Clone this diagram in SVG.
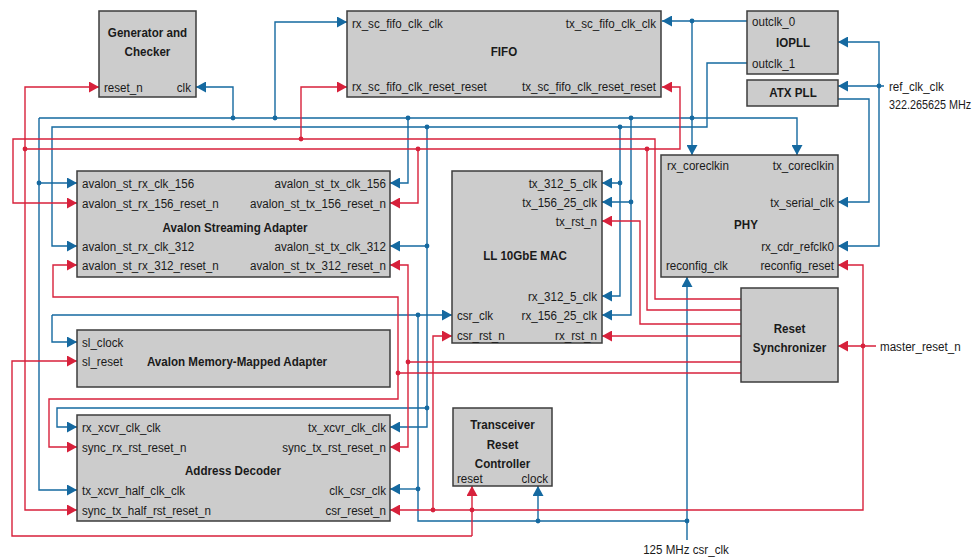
<svg xmlns="http://www.w3.org/2000/svg" width="976" height="558" viewBox="0 0 976 558">
<style>
.box{fill:#cccccc;stroke:#3c3c3c;stroke-width:1.5}
text{font-family:"Liberation Sans",Arial,sans-serif;font-size:13.5px;fill:#1a1a1a}
.t{font-weight:bold}
.m{text-anchor:middle}
.e{text-anchor:end}
.b{fill:none;stroke:#1569a0;stroke-width:1.4}
.r{fill:none;stroke:#d7213b;stroke-width:1.4}
.ba{marker-end:url(#ab)}
.ra{marker-end:url(#ar)}
.db{fill:#1569a0}
.dr{fill:#d7213b}
</style>
<defs>
<marker id="ab" markerUnits="userSpaceOnUse" viewBox="0 0 10 11" markerWidth="10" markerHeight="11" refX="10" refY="5.5" orient="auto"><path d="M0,0L10,5.5L0,11z" fill="#1569a0"/></marker>
<marker id="ar" markerUnits="userSpaceOnUse" viewBox="0 0 10 11" markerWidth="10" markerHeight="11" refX="10" refY="5.5" orient="auto"><path d="M0,0L10,5.5L0,11z" fill="#d7213b"/></marker>
</defs>
<rect width="976" height="558" fill="#ffffff"/>

<g id="connectors">
<g class="b">
<path class="ba" d="M747,21H662"/>
<path class="ba" d="M692,21V155"/>
<path class="ba" d="M39,118H797V155"/>
<path class="ba" d="M39,118V490H77"/>
<path class="ba" d="M39,183H77"/>
<path class="ba" d="M233,118V87H196"/>
<path class="ba" d="M275,118V22H347"/>
<path class="ba" d="M408,118V183H390"/>
<path class="ba" d="M631,118V202H602"/>
<path class="ba" d="M631,202V315H602"/>
<path class="ba" d="M747,63H707V127H52V246H77"/>
<path class="ba" d="M427,127V427H390"/>
<path class="ba" d="M427,246H390"/>
<path class="ba" d="M427,408H57V427H77"/>
<path class="ba" d="M620,127V183H602"/>
<path class="ba" d="M620,183V296H602"/>
<path class="ba" d="M687,540V277"/>
<path d="M687,521H418V315"/>
<path class="ba" d="M52,315H452"/>
<path class="ba" d="M52,315V342H77"/>
<path class="ba" d="M418,489H390"/>
<path class="ba" d="M538,521V486"/>
<path class="ba" d="M884,86H838"/>
<path class="ba" d="M879,86V42H838"/>
<path class="ba" d="M879,86V246H838"/>
<path class="ba" d="M838,99H869V202H838"/>
</g>
<g class="r">
<path class="ra" d="M741,299H655V139H13V203H77"/>
<path class="ra" d="M301,139V87H347"/>
<path d="M741,310H647V149"/>
<path class="ra" d="M25,149H680V87H662"/>
<path class="ra" d="M25,149V87H99"/>
<path class="ra" d="M25,149V510H77"/>
<path class="ra" d="M418,149V203H390"/>
<path class="ra" d="M741,324H640V221H602"/>
<path class="ra" d="M741,336H602"/>
<path d="M741,362H408"/>
<path class="ra" d="M408,362V265H390"/>
<path class="ra" d="M408,362V447H390"/>
<path d="M741,373H398"/>
<path class="ra" d="M398,373V297H53V265H77"/>
<path class="ra" d="M398,373V399H49V447H77"/>
<path class="ra" d="M876,346H838"/>
<path class="ra" d="M863,346V265H838"/>
<path class="ra" d="M863,346V510H390"/>
<path class="ra" d="M433,510V336H452"/>
<path class="ra" d="M472,536V486"/>
<path class="ra" d="M472,536H12V361H77"/>
</g>
<g class="db">
<circle cx="692" cy="21" r="2.4"/><circle cx="692" cy="118" r="2.4"/><circle cx="39" cy="183" r="2.4"/>
<circle cx="233" cy="118" r="2.4"/><circle cx="275" cy="118" r="2.4"/><circle cx="408" cy="118" r="2.4"/>
<circle cx="631" cy="118" r="2.4"/><circle cx="631" cy="202" r="2.4"/><circle cx="427" cy="127" r="2.4"/>
<circle cx="427" cy="246" r="2.4"/><circle cx="427" cy="408" r="2.4"/><circle cx="620" cy="127" r="2.4"/>
<circle cx="620" cy="183" r="2.4"/><circle cx="687" cy="521" r="2.4"/><circle cx="538" cy="521" r="2.4"/>
<circle cx="418" cy="489" r="2.4"/><circle cx="418" cy="315" r="2.4"/><circle cx="879" cy="86" r="2.4"/>
</g>
<g class="dr">
<circle cx="301" cy="139" r="2.4"/><circle cx="25" cy="149" r="2.4"/><circle cx="418" cy="149" r="2.4"/>
<circle cx="647" cy="149" r="2.4"/><circle cx="408" cy="362" r="2.4"/><circle cx="398" cy="373" r="2.4"/>
<circle cx="863" cy="346" r="2.4"/><circle cx="433" cy="510" r="2.4"/><circle cx="472" cy="510" r="2.4"/>
</g>
</g>

<g id="gen">
<rect class="box" x="99" y="11" width="97" height="86"/>
<text class="t m" transform="translate(147.5,37) scale(.86,1)">Generator and</text>
<text class="t m" transform="translate(147.5,56) scale(.86,1)">Checker</text>
<text transform="translate(104,91.5) scale(.86,1)">reset_n</text>
<text class="e" transform="translate(191,91.5) scale(.86,1)">clk</text>
</g>

<g id="fifo">
<rect class="box" x="347" y="11" width="314" height="86"/>
<text transform="translate(352,27.5) scale(.86,1)">rx_sc_fifo_clk_clk</text>
<text class="e" transform="translate(656,27.5) scale(.86,1)">tx_sc_fifo_clk_clk</text>
<text class="t m" transform="translate(504,56) scale(.86,1)">FIFO</text>
<text transform="translate(352,91) scale(.86,1)">rx_sc_fifo_clk_reset_reset</text>
<text class="e" transform="translate(656,91) scale(.86,1)">tx_sc_fifo_clk_reset_reset</text>
</g>

<g id="iopll">
<rect class="box" x="747" y="11" width="91" height="63"/>
<text transform="translate(752,25.5) scale(.86,1)">outclk_0</text>
<text class="t m" transform="translate(793,47) scale(.86,1)">IOPLL</text>
<text transform="translate(752,67.5) scale(.86,1)">outclk_1</text>
</g>

<g id="atxpll">
<rect class="box" x="747" y="80" width="91" height="26"/>
<text class="t m" transform="translate(793,97) scale(.86,1)">ATX PLL</text>
</g>

<g id="refclk">
<text transform="translate(889,90.5) scale(.86,1)">ref_clk_clk</text>
<text transform="translate(889,108.5) scale(.8,1)">322.265625 MHz</text>
</g>

<g id="phy">
<rect class="box" x="661" y="155" width="177" height="122"/>
<text transform="translate(667,169.5) scale(.86,1)">rx_coreclkin</text>
<text class="e" transform="translate(834,169.5) scale(.86,1)">tx_coreclkin</text>
<text class="e" transform="translate(834,206.5) scale(.86,1)">tx_serial_clk</text>
<text class="t m" transform="translate(746,229) scale(.86,1)">PHY</text>
<text class="e" transform="translate(834,250.5) scale(.86,1)">rx_cdr_refclk0</text>
<text transform="translate(666,270) scale(.86,1)">reconfig_clk</text>
<text class="e" transform="translate(834,270) scale(.86,1)">reconfig_reset</text>
</g>

<g id="avst">
<rect class="box" x="77" y="171" width="313" height="106"/>
<text transform="translate(82,187.5) scale(.86,1)">avalon_st_rx_clk_156</text>
<text transform="translate(82,207.5) scale(.86,1)">avalon_st_rx_156_reset_n</text>
<text transform="translate(82,250.5) scale(.86,1)">avalon_st_rx_clk_312</text>
<text transform="translate(82,269.5) scale(.86,1)">avalon_st_rx_312_reset_n</text>
<text class="e" transform="translate(386,187.5) scale(.86,1)">avalon_st_tx_clk_156</text>
<text class="e" transform="translate(386,207.5) scale(.86,1)">avalon_st_tx_156_reset_n</text>
<text class="e" transform="translate(386,250.5) scale(.86,1)">avalon_st_tx_clk_312</text>
<text class="e" transform="translate(386,269.5) scale(.86,1)">avalon_st_tx_312_reset_n</text>
<text class="t m" transform="translate(235,232) scale(.86,1)">Avalon Streaming Adapter</text>
</g>

<g id="mac">
<rect class="box" x="452" y="171" width="150" height="172"/>
<text class="e" transform="translate(597,187.5) scale(.86,1)">tx_312_5_clk</text>
<text class="e" transform="translate(597,206.5) scale(.86,1)">tx_156_25_clk</text>
<text class="e" transform="translate(597,225.5) scale(.86,1)">tx_rst_n</text>
<text class="t m" transform="translate(525,260) scale(.86,1)">LL 10GbE MAC</text>
<text class="e" transform="translate(597,300.5) scale(.86,1)">rx_312_5_clk</text>
<text class="e" transform="translate(597,319.5) scale(.86,1)">rx_156_25_clk</text>
<text class="e" transform="translate(597,340) scale(.86,1)">rx_rst_n</text>
<text transform="translate(457,319.5) scale(.86,1)">csr_clk</text>
<text transform="translate(457,340) scale(.86,1)">csr_rst_n</text>
</g>

<g id="resetsync">
<rect class="box" x="741" y="288" width="97" height="94"/>
<text class="t m" transform="translate(789.5,333) scale(.86,1)">Reset</text>
<text class="t m" transform="translate(789.5,352) scale(.86,1)">Synchronizer</text>
</g>

<g id="masterreset">
<text transform="translate(880,350.5) scale(.86,1)">master_reset_n</text>
</g>

<g id="avmm">
<rect class="box" x="77" y="330" width="313" height="57"/>
<text transform="translate(82,346.5) scale(.86,1)">sl_clock</text>
<text transform="translate(82,365.5) scale(.86,1)">sl_reset</text>
<text class="t m" transform="translate(237,365.5) scale(.86,1)">Avalon Memory-Mapped Adapter</text>
</g>

<g id="addrdec">
<rect class="box" x="77" y="415" width="313" height="106"/>
<text transform="translate(82,431.5) scale(.86,1)">rx_xcvr_clk_clk</text>
<text transform="translate(82,451.5) scale(.86,1)">sync_rx_rst_reset_n</text>
<text transform="translate(82,494.5) scale(.86,1)">tx_xcvr_half_clk_clk</text>
<text transform="translate(82,514.5) scale(.86,1)">sync_tx_half_rst_reset_n</text>
<text class="e" transform="translate(386,431.5) scale(.86,1)">tx_xcvr_clk_clk</text>
<text class="e" transform="translate(386,451.5) scale(.86,1)">sync_tx_rst_reset_n</text>
<text class="e" transform="translate(386,494.5) scale(.86,1)">clk_csr_clk</text>
<text class="e" transform="translate(386,514.5) scale(.86,1)">csr_reset_n</text>
<text class="t m" transform="translate(233,475) scale(.86,1)">Address Decoder</text>
</g>

<g id="trc">
<rect class="box" x="453" y="408" width="99" height="78"/>
<text class="t m" transform="translate(502.5,429) scale(.86,1)">Transceiver</text>
<text class="t m" transform="translate(502.5,448.5) scale(.86,1)">Reset</text>
<text class="t m" transform="translate(502.5,467.5) scale(.86,1)">Controller</text>
<text transform="translate(457,482.5) scale(.86,1)">reset</text>
<text class="e" transform="translate(548,482.5) scale(.86,1)">clock</text>
</g>

<g id="csrclk">
<text class="m" transform="translate(686,553.5) scale(.86,1)">125 MHz csr_clk</text>
</g>
</svg>
